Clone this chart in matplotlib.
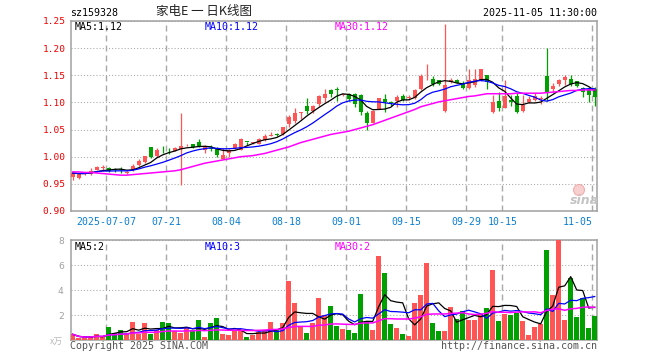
import numpy as np
import pandas as pd
import matplotlib
matplotlib.use('Agg')
import matplotlib.pyplot as plt
import matplotlib.patches as mpatches

# daily bars, 2025-06-27 .. 2025-11-05 (88 trading days)
opens = [0.962, 0.961, 0.968, 0.969, 0.976, 0.979, 0.980, 0.977, 0.977, 0.970,
         0.975, 0.984, 0.990, 1.017, 1.001, 1.013, 1.013, 1.011, 1.015, 1.021,
         1.023, 1.027, 1.013, 1.016, 1.016, 0.996, 1.007, 1.016, 1.013, 1.028,
         1.025, 1.024, 1.030, 1.039, 1.042, 1.041, 1.061, 1.066, 1.081, 1.093,
         1.085, 1.098, 1.108, 1.122, 1.124, 1.113, 1.115, 1.115, 1.114, 1.080,
         1.063, 1.088, 1.107, 1.100, 1.103, 1.112, 1.108, 1.108, 1.125, 1.150,
         1.143, 1.141, 1.085, 1.138, 1.142, 1.136, 1.127, 1.133, 1.142, 1.150,
         1.083, 1.102, 1.090, 1.105, 1.112, 1.084, 1.100, 1.105, 1.107, 1.148,
         1.124, 1.134, 1.142, 1.144, 1.140, 1.126, 1.124, 1.124]
highs = [0.973, 0.970, 0.971, 0.979, 0.982, 0.985, 0.981, 0.980, 0.981, 0.973,
         0.986, 0.996, 1.002, 1.018, 1.016, 1.019, 1.016, 1.017, 1.080, 1.024,
         1.024, 1.032, 1.022, 1.022, 1.018, 1.016, 1.014, 1.026, 1.034, 1.028,
         1.028, 1.034, 1.041, 1.045, 1.044, 1.055, 1.077, 1.089, 1.082, 1.108,
         1.095, 1.114, 1.124, 1.124, 1.128, 1.116, 1.118, 1.118, 1.116, 1.084,
         1.086, 1.109, 1.115, 1.103, 1.113, 1.115, 1.113, 1.124, 1.152, 1.171,
         1.149, 1.142, 1.245, 1.145, 1.144, 1.139, 1.161, 1.161, 1.162, 1.151,
         1.114, 1.120, 1.141, 1.113, 1.117, 1.113, 1.111, 1.118, 1.112, 1.200,
         1.135, 1.144, 1.150, 1.150, 1.140, 1.129, 1.129, 1.129]
lows = [0.958, 0.959, 0.966, 0.967, 0.975, 0.974, 0.972, 0.972, 0.970, 0.968,
        0.974, 0.982, 0.989, 0.998, 1.000, 1.006, 1.005, 1.010, 0.947, 1.020,
        1.016, 1.018, 1.007, 1.010, 0.999, 0.995, 1.000, 1.015, 1.012, 1.022,
        1.024, 1.023, 1.029, 1.038, 1.039, 1.040, 1.055, 1.063, 1.069, 1.078,
        1.080, 1.093, 1.101, 1.110, 1.102, 1.112, 1.103, 1.091, 1.076, 1.050,
        1.062, 1.087, 1.083, 1.093, 1.092, 1.103, 1.105, 1.106, 1.123, 1.141,
        1.131, 1.133, 1.082, 1.136, 1.135, 1.124, 1.124, 1.128, 1.140, 1.124,
        1.081, 1.084, 1.089, 1.093, 1.080, 1.082, 1.099, 1.102, 1.098, 1.102,
        1.120, 1.130, 1.133, 1.130, 1.129, 1.110, 1.101, 1.093]
closes = [0.970, 0.968, 0.969, 0.974, 0.981, 0.980, 0.973, 0.976, 0.976, 0.971,
          0.983, 0.992, 1.001, 1.000, 1.012, 1.012, 1.012, 1.016, 1.020, 1.022,
          1.017, 1.019, 1.018, 1.015, 1.003, 1.004, 1.013, 1.023, 1.032, 1.027,
          1.026, 1.033, 1.038, 1.040, 1.040, 1.054, 1.073, 1.080, 1.082, 1.085,
          1.094, 1.111, 1.116, 1.115, 1.122, 1.115, 1.106, 1.097, 1.083, 1.062,
          1.085, 1.108, 1.101, 1.099, 1.110, 1.105, 1.109, 1.123, 1.148, 1.151,
          1.134, 1.134, 1.133, 1.142, 1.136, 1.127, 1.142, 1.144, 1.161, 1.138,
          1.101, 1.090, 1.112, 1.100, 1.082, 1.096, 1.106, 1.111, 1.108, 1.117,
          1.130, 1.141, 1.147, 1.134, 1.131, 1.120, 1.114, 1.110]
# volume (x万)
volumes = [0.48, 0.15, 0.15, 0.30, 0.50, 0.30, 1.10, 0.60, 0.85, 0.60,
           1.50, 0.50, 1.40, 0.50, 0.80, 1.50, 1.40, 0.75, 0.55, 1.05,
           0.85, 1.60, 0.30, 1.35, 1.75, 0.50, 0.40, 0.75, 0.75, 0.30,
           0.45, 0.65, 0.75, 1.45, 0.85, 1.35, 4.75, 2.95, 1.10, 0.60,
           1.35, 3.40, 2.00, 2.75, 1.15, 0.90, 0.83, 0.60, 3.70, 1.57,
           0.83, 6.75, 5.40, 1.30, 1.00, 0.53, 0.35, 3.00, 3.63, 6.20,
           1.40, 0.75, 0.75, 2.67, 1.70, 2.35, 1.63, 1.63, 2.08, 2.60,
           5.63, 1.55, 2.10, 2.03, 2.20, 1.55, 0.43, 1.07, 1.33, 7.20,
           3.63, 8.00, 1.63, 5.00, 1.87, 3.40, 1.00, 1.95]
# 30-day price average as drawn (needs history before the window)
ma30_price = [0.972, 0.972, 0.971, 0.971, 0.970, 0.969, 0.968, 0.967, 0.966, 0.966,
              0.967, 0.968, 0.969, 0.970, 0.971, 0.972, 0.973, 0.974, 0.976, 0.979,
              0.982, 0.985, 0.988, 0.990, 0.992, 0.994, 0.996, 0.998, 1.000, 1.001,
              1.002, 1.004, 1.006, 1.009, 1.012, 1.015, 1.018, 1.022, 1.026, 1.029,
              1.032, 1.035, 1.038, 1.041, 1.043, 1.045, 1.047, 1.050, 1.053, 1.056,
              1.059, 1.063, 1.067, 1.071, 1.075, 1.079, 1.083, 1.087, 1.092, 1.095,
              1.098, 1.101, 1.103, 1.105, 1.107, 1.109, 1.111, 1.112, 1.114, 1.116,
              1.116, 1.116, 1.116, 1.116, 1.117, 1.117, 1.117, 1.117, 1.117, 1.118,
              1.119, 1.120, 1.121, 1.122, 1.122, 1.123, 1.123, 1.123]

tick_idx = [6, 16, 26, 36, 46, 56, 66, 72, 87]
tick_labels = ['2025-07-07', '07-21', '08-04', '08-18', '09-01',
               '09-15', '09-29', '10-15', '11-05']
price_ticks = [0.90, 0.95, 1.00, 1.05, 1.10, 1.15, 1.20, 1.25]
vol_ticks = [2, 4, 6, 8]

RED = '#ff5555'
GREEN = '#00a000'
GRID = '#a8a8a8'
MONO = 'DejaVu Sans Mono'

W, H = 660, 360
fig = plt.figure(figsize=(W / 100, H / 100), dpi=100)

def fx(px):
    return px / W

def fy(py):
    return 1 - py / H

ax = fig.add_axes([fx(70.7), fy(211), fx(597) - fx(70.7), fy(21) - fy(211)])
axv = fig.add_axes([fx(70.7), fy(340.3), fx(597) - fx(70.7), fy(240.3) - fy(340.3)])

x = np.arange(len(closes))
o = np.array(opens)
c = np.array(closes)
up = c >= o
cols = np.where(up, RED, GREEN)

# candles
ax.vlines(x, lows, highs, colors=cols, lw=0.9, zorder=3)
body_bot = np.minimum(o, c)
body_h = np.maximum(np.abs(c - o), 0.0012)
ax.bar(x, body_h, bottom=body_bot, width=0.72, color=cols, lw=0, zorder=4)

s = pd.Series(closes)
ax.plot(x, s.rolling(5, min_periods=1).mean(), color='black', lw=0.9, zorder=5)
ax.plot(x, s.rolling(10, min_periods=1).mean(), color='#0000ff', lw=0.9, zorder=5)
ax.plot(x, ma30_price, color='#ff00ff', lw=1.1, zorder=5)

# volume
axv.bar(x, volumes, width=0.8, color=cols, lw=0, zorder=3)
v = pd.Series(volumes)
axv.plot(x, v.rolling(5, min_periods=1).mean(), color='black', lw=0.9, zorder=5)
axv.plot(x, v.rolling(10, min_periods=1).mean(), color='#0000ff', lw=0.9, zorder=5)
axv.plot(x, v.rolling(30, min_periods=1).mean(), color='#ff00ff', lw=1.1, zorder=5)

for a in (ax, axv):
    a.set_xlim(-0.33, 87.38)
    a.set_xticks(np.array(tick_idx) - 0.4)
    a.set_axisbelow(True)
    a.xaxis.grid(True, color=GRID, lw=1.0, linestyle=(0, (4.3, 2.9)))
    a.yaxis.grid(True, color=GRID, lw=0.75, linestyle=(0, (1, 2)))
    a.tick_params(length=0)
    for sp in a.spines.values():
        sp.set_color('#a0a0a0')
        sp.set_linewidth(1.1)

ax.set_ylim(0.90, 1.25)
ax.set_yticks(price_ticks)
ax.set_yticklabels(['%.2f' % t for t in price_ticks], family=MONO,
                   fontsize=6.8, color='#ee0000')
ax.tick_params(axis='y', pad=3.6)
ax.set_xticklabels(tick_labels, family=MONO, fontsize=7.1, color='#0a7fd0')
ax.tick_params(axis='x', pad=4.3)
ax.get_xticklabels()[-1].set_ha('right')

axv.set_ylim(0, 8)
axv.set_yticks(vol_ticks)
axv.set_yticklabels([str(t) for t in vol_ticks], fontsize=6.6, color='#a0a0a0')
axv.tick_params(axis='y', pad=5)
axv.set_xticklabels([])

# header texts
fig.text(fx(70), fy(13), 'sz159328', family=MONO, fontsize=7.2, va='center')
fig.text(fx(204), fy(12), '家电E 一 日K线图', family=['Noto Sans CJK SC', 'DejaVu Sans'],
         fontsize=9, va='center', ha='center', color='#222222')
fig.text(fx(597), fy(13), '2025-11-05 11:30:00', family=MONO, fontsize=7.2,
         va='center', ha='right')

# moving-average legends
for px, txt, col in [(75, 'MA5:1.12', 'black'), (205, 'MA10:1.12', '#0000ff'),
                     (335, 'MA30:1.12', '#ff00ff')]:
    fig.text(fx(px), fy(26.5), txt, family=MONO, fontsize=7.2, color=col, va='center')
for px, txt, col in [(75, 'MA5:2', 'black'), (205, 'MA10:3', '#0000ff'),
                     (335, 'MA30:2', '#ff00ff')]:
    fig.text(fx(px), fy(247), txt, family=MONO, fontsize=7.2, color=col, va='center')

# footer
fig.text(fx(63), fy(341), 'x万', family=['Noto Sans CJK SC', 'DejaVu Sans'],
         fontsize=6.3, color='#b8b8b8', ha='right', va='center', style='italic')
fig.text(fx(69.5), fy(346), 'Copyright 2025 SINA.COM', family=MONO, fontsize=7.2,
         color='#555555', va='center')
fig.text(fx(597), fy(346), 'http://finance.sina.com.cn', family=MONO, fontsize=7.2,
         color='#555555', va='center', ha='right')

# sina watermark
fig.patches.append(mpatches.Ellipse((fx(579), fy(190)), fx(11), 11 / H,
                                    transform=fig.transFigure, facecolor='#f6c4c4',
                                    edgecolor='#f0a0a0', lw=0.8, alpha=0.8))
fig.text(fx(584), fy(200), 'sina', fontsize=9, weight='bold', style='italic',
         color='#c4c4c4', ha='center', va='center')

fig.savefig('out.png', dpi=100)
